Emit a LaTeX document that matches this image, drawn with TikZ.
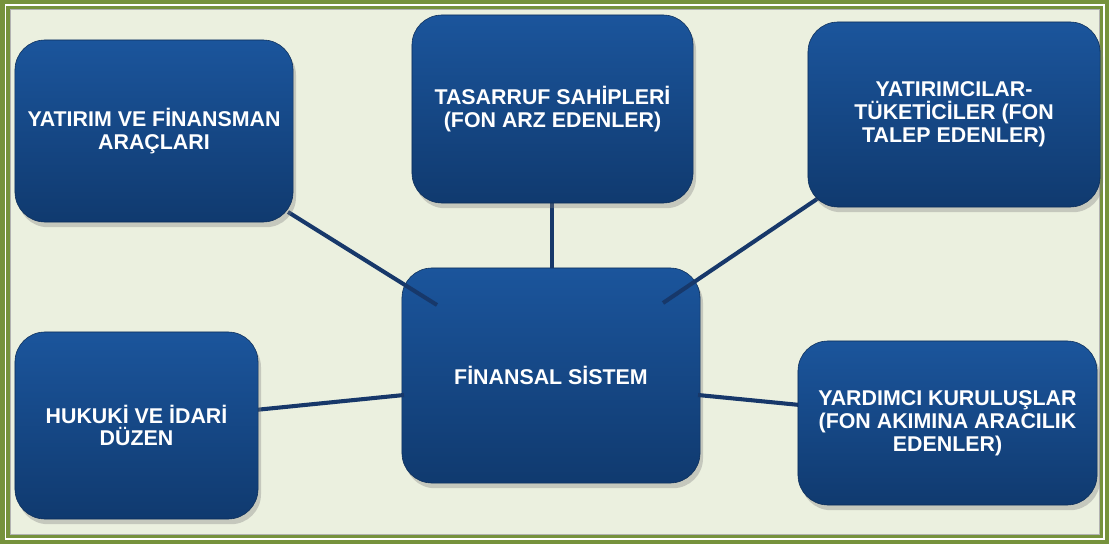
\documentclass[tikz,border=0pt]{standalone}
\usepackage{fontspec}
\setmainfont{Liberation Sans}
\usetikzlibrary{shadows}
\definecolor{framegreen}{HTML}{76923C}
\definecolor{paper}{HTML}{EBF0DF}
\definecolor{boxtop}{HTML}{1B559C}
\definecolor{boxbottom}{HTML}{103A6F}
\definecolor{linkblue}{HTML}{17386A}
\tikzset{
    kutu/.style={rounded corners=0.75cm, draw=boxbottom!80!black, line width=0.4pt,
        top color=boxtop, bottom color=boxbottom,
        drop shadow={shadow xshift=0.4ex, shadow yshift=-0.7ex, opacity=0.35},
        text=white, align=center, inner sep=2pt,
        font=\fontsize{15.2}{16.2}\selectfont\bfseries},
    bag/.style={draw=linkblue, line width=2.9pt}
}
\begin{document}
\begin{tikzpicture}[x=0.025cm, y=-0.025cm]
        %çerçeve ve zemin
        \useasboundingbox (0,0) rectangle (1109,544);
        \fill[framegreen] (0,0) rectangle (1109,544);
        \fill[white] (4.5,4.5) rectangle (1104.5,539.5);
        \fill[framegreen] (6,6) rectangle (1103,538);
        \fill[gray!60] (9.5,9.5) rectangle (1099.5,534.5);
        \fill[paper] (10.5,10.5) rectangle (1098.5,533.5);

        %merkez kutu
        \node[kutu, minimum width=7.45cm, minimum height=5.375cm] (FS) at (551,375.5) {FİNANSAL SİSTEM};

        %bağlantı uçları
        \coordinate (A1) at (288,212);
        \coordinate (A2) at (437,305);
        \coordinate (B1) at (552,200);
        \coordinate (B2) at (552,268);
        \coordinate (C1) at (820,197);
        \coordinate (C2) at (663,303);
        \coordinate (D1) at (255,410);
        \coordinate (D2) at (404,395);
        \coordinate (E1) at (698,395);
        \coordinate (E2) at (800,405);

        \foreach \p/\q in {A1/A2, B1/B2, C1/C2, D1/D2, E1/E2}
        {
            \draw[bag] (\p) -- (\q);
        };

        %çevre kutular
        \node[kutu, minimum width=6.95cm, minimum height=4.55cm] (YF) at (154,131)
            {YATIRIM VE FİNANSMAN\\ARAÇLARI};
        \node[kutu, minimum width=7.025cm, minimum height=4.7cm] (TS) at (552.5,109)
            {TASARRUF SAHİPLERİ\\(FON ARZ EDENLER)};
        \node[kutu, minimum width=7.3cm, minimum height=4.625cm] (YT) at (954,114.5)
            {YATIRIMCILAR-\\TÜKETİCİLER (FON\\TALEP EDENLER)};
        \node[kutu, minimum width=6.075cm, minimum height=4.675cm] (HI) at (136.5,425.5)
            {HUKUKİ VE İDARİ\\DÜZEN};
        \node[kutu, minimum width=7.475cm, minimum height=4.1cm] (YK) at (947.5,423)
            {YARDIMCI KURULUŞLAR\\(FON AKIMINA ARACILIK\\EDENLER)};
\end{tikzpicture}
\end{document}
